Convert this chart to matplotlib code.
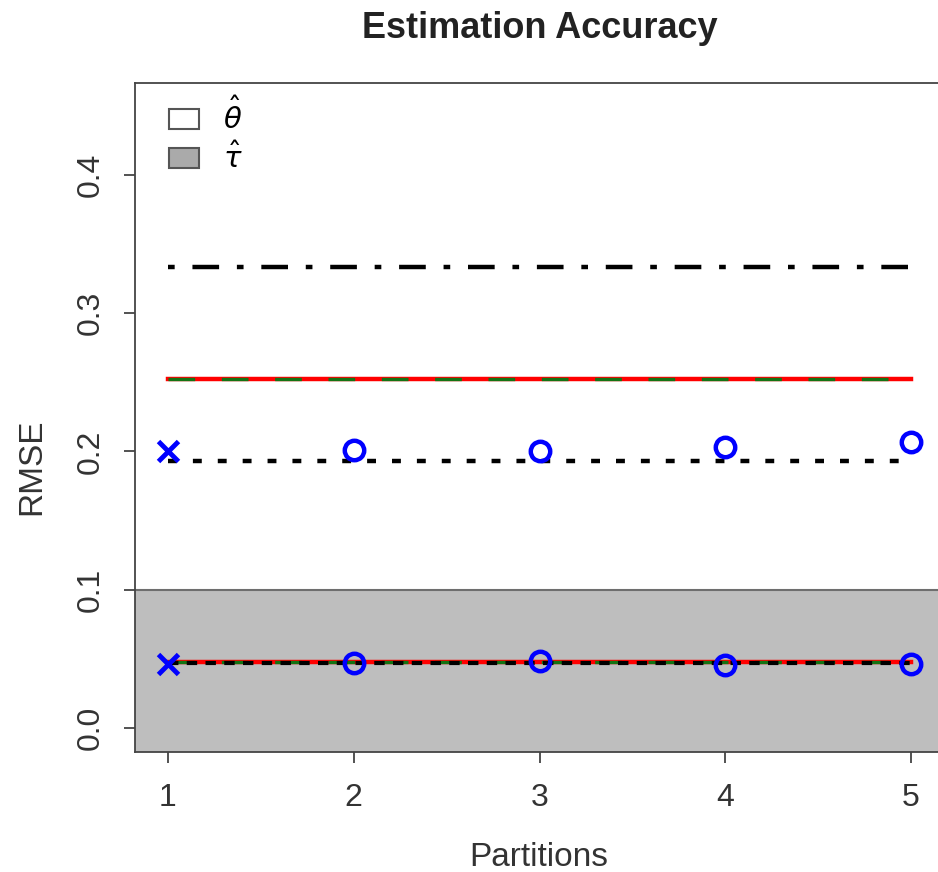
import matplotlib.pyplot as plt
from matplotlib.patches import Patch

plt.rcParams['font.family'] = ['Liberation Sans', 'DejaVu Sans']
plt.rcParams['mathtext.fontset'] = 'dejavusans'

partitions = [1, 2, 3, 4, 5]
theta_rmse = [0.2003, 0.201, 0.2, 0.203, 0.207]
tau_rmse = [0.046, 0.047, 0.0484, 0.0455, 0.046]

theta_dotdash = 0.3333
theta_red = 0.2524
theta_green = 0.2524
theta_dotted = 0.193
tau_red = 0.0477
tau_green = 0.0477
tau_dashed = 0.047

y_ticks = [0.0, 0.1, 0.2, 0.3, 0.4]
shade_top = 0.1

fig = plt.figure(figsize=(9.38, 8.72), dpi=100)
ax = fig.add_axes([0.144, 0.1376, 0.861, 0.7672])
ax.set_xlim(0.823, 5.17)
ax.set_ylim(-0.0174, 0.4665)

ax.axhspan(-1, shade_top, color='#bebebe', zorder=0)
ax.axhline(shade_top, color='#6e6e6e', lw=1.5, zorder=1)

x0, x1 = partitions[0], partitions[-1]
ax.plot([x0, x1], [theta_dotdash] * 2, color='black', lw=3.2,
        dashes=(1.5, 4, 6, 4), zorder=2)
ax.plot([x0, x1], [theta_red] * 2, color='red', lw=3.2, zorder=2)
ax.plot([x0, x1], [theta_green] * 2, color='#137313', lw=2.4,
        dashes=(8, 8), zorder=2)
ax.plot([x0, x1], [theta_dotted] * 2, color='black', lw=3.2,
        dashes=(2, 3.6), zorder=2)

ax.plot([x0, x1], [tau_red] * 2, color='red', lw=3.2, zorder=2)
ax.plot([x0, x1], [tau_green] * 2, color='#137313', lw=2.4,
        dashes=(8, 8), zorder=2)
ax.plot([x0, x1], [tau_dashed] * 2, color='black', lw=3.0,
        dashes=(2.5, 2), zorder=2)

for vals in (theta_rmse, tau_rmse):
    ax.plot(partitions[:1], vals[:1], linestyle='none', marker='x',
            color='#0000ff', ms=15, mew=3.5, zorder=3)
    ax.plot(partitions[1:], vals[1:], linestyle='none', marker='o',
            mfc='none', mec='#0000ff', ms=14, mew=3.2, zorder=3)

ax.set_xticks(partitions)
ax.set_yticks(y_ticks)
ax.set_yticklabels([f'{v:.1f}' for v in y_ticks], rotation=90, va='center')
ax.tick_params(axis='both', labelsize=23, length=8, width=1.3,
               color='#444444', labelcolor='#333333')
ax.tick_params(axis='y', pad=13)
ax.tick_params(axis='x', pad=14)
for s in ax.spines.values():
    s.set_color('#444444')
    s.set_linewidth(1.3)

fig.text(539 / 938, 1 - 857 / 872, 'Partitions', fontsize=24,
         color='#333333', ha='center', va='center')
fig.text(32 / 938, 1 - 467 / 872, 'RMSE', fontsize=24, color='#333333',
         ha='center', va='center', rotation=90)
fig.text(540 / 938, 1 - 28 / 872, 'Estimation Accuracy', fontsize=26,
         fontweight='bold', color='#222222', ha='center', va='center')

handles = [Patch(facecolor='white', edgecolor='#555555', lw=1.5),
           Patch(facecolor='#aaaaaa', edgecolor='#555555', lw=1.5)]
ax.legend(handles, [r'$\hat{\theta}$', r'$\hat{\tau}$'], loc='upper left',
          bbox_to_anchor=(8 / 808, 1 + 11 / 669),
          frameon=False, fontsize=21, handlelength=1.03, handleheight=0.69,
          labelspacing=0.27, borderaxespad=0.5, borderpad=0.4,
          handletextpad=0.8)

fig.savefig('out.png', dpi=100)
